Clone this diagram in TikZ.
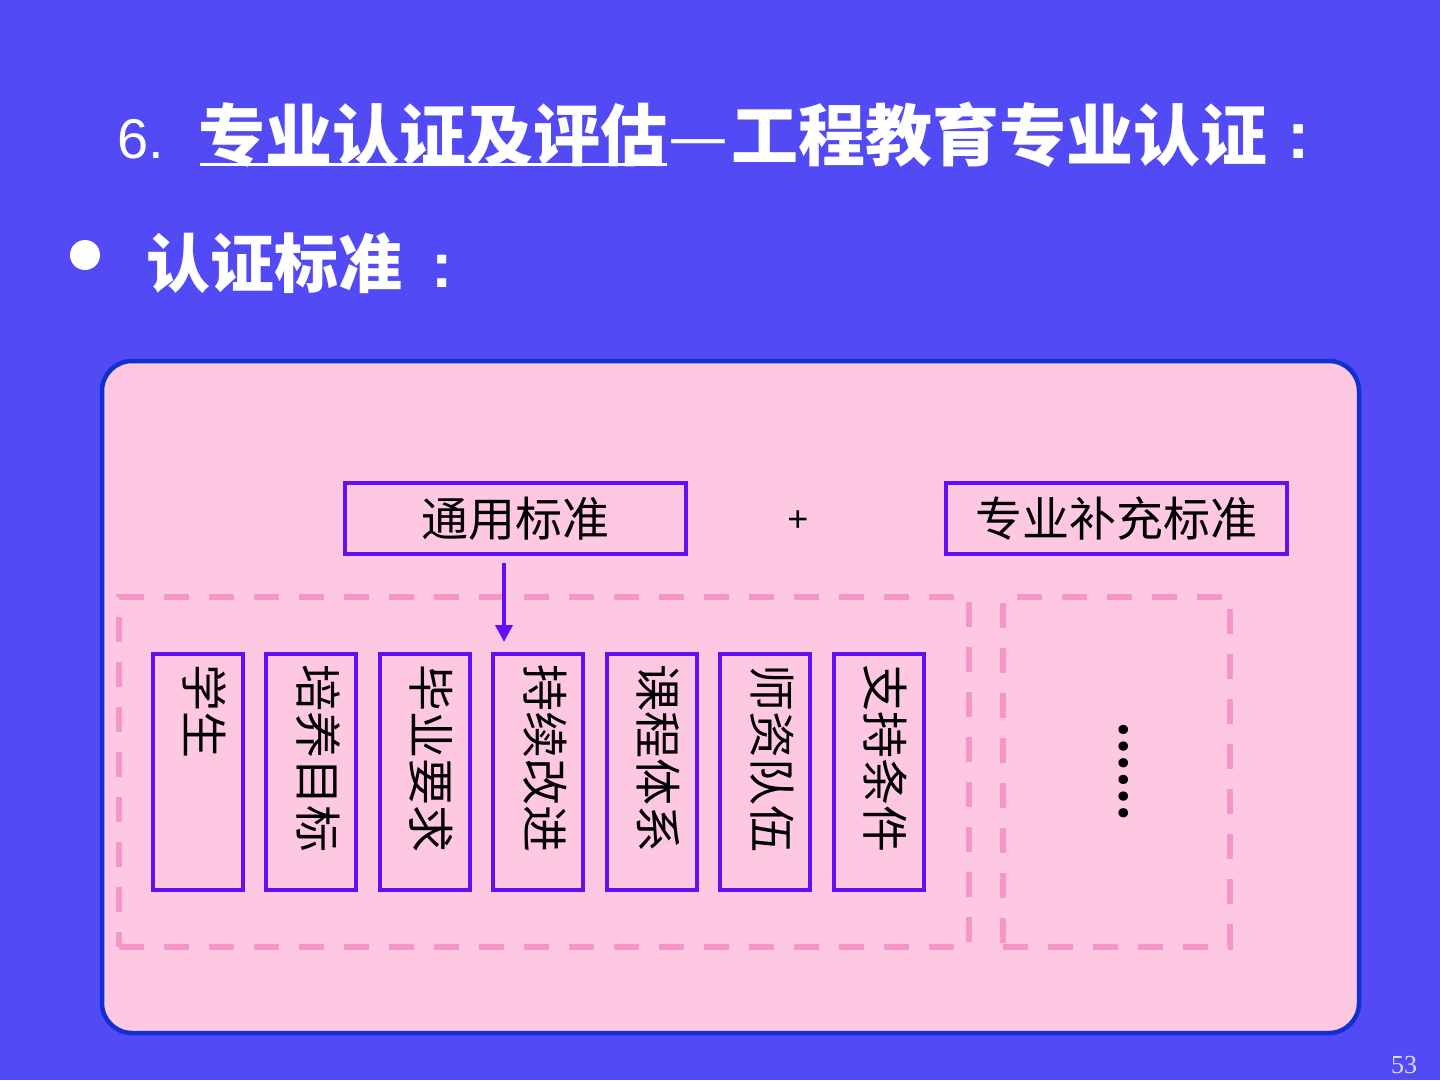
\documentclass[tikz,border=0pt]{standalone}
\usepackage{fontspec}
\usetikzlibrary{arrows.meta,calc}
\newfontfamily\cjk{Noto Sans CJK SC}
\newfontfamily\arialf{Liberation Sans}
\newfontfamily\timesf{Liberation Serif}
\definecolor{bgc}{RGB}{82,74,244}
\definecolor{panelfill}{RGB}{255,200,226}
\definecolor{panelline}{RGB}{16,48,208}
\definecolor{boxline}{RGB}{100,16,245}
\definecolor{dashpink}{RGB}{244,150,200}
\definecolor{pagenum}{RGB}{220,220,250}
\begin{document}
\begin{tikzpicture}[x=1pt,y=-1pt,
  titletext/.style={anchor=base west, inner sep=0pt, text=white, font=\cjk\bfseries\fontsize{67}{70}\selectfont},
  colontext/.style={anchor=base west, inner sep=0pt, text=white, font=\arialf\bfseries\fontsize{67}{70}\selectfont},
  panel/.style={draw=panelline, line width=4.5pt, fill=panelfill, rounded corners=30pt, minimum width=1257pt, minimum height=672pt, inner sep=0pt},
  hbox/.style={draw=boxline, line width=4pt, minimum width=341pt, minimum height=71pt, inner sep=0pt, font=\cjk\fontsize{47}{50}\selectfont, text=black},
  vbox/.style={draw=boxline, line width=4pt, minimum width=90pt, minimum height=236pt, inner sep=0pt},
  vtext/.style={rotate=-90, anchor=west, inner sep=0pt, font=\cjk\fontsize{47}{50}\selectfont, text=black},
  dashbox/.style={draw=dashpink, line width=5.5pt, dash pattern=on 25pt off 20pt, inner sep=0pt},
  conn/.style={draw=boxline, line width=4pt, -{Triangle[width=17pt,length=17pt]}}
]
\fill[bgc] (0,0) rectangle (1440,1080);
\useasboundingbox (0,0) rectangle (1440,1080);

% title
\node[anchor=base west, inner sep=0pt, text=white, font=\arialf\fontsize{56}{60}\selectfont] (num) at (117,158) {6.};
\node[titletext] (t1) at (198,160) {专业认证及评估};
\node[inner sep=0pt, text=white, font=\cjk\fontsize{67}{70}\selectfont] (dash) at (698,150) {—};
\node[titletext] (t3) at (731,160) {工程教育专业认证};
\node[colontext] (tc) at (1287,158) {:};
\draw[white, line width=3pt] ($(t1.base west)+(2,4)$) -- ($(t1.base east)+(0,4)$);

% bullet line
\fill[white] (85,255) circle (15);
\node[titletext, font=\cjk\bfseries\fontsize{64}{68}\selectfont] (sub) at (146,287) {认证标准};
\node[colontext, font=\arialf\bfseries\fontsize{64}{68}\selectfont] (subc) at (431,287) {:};

% panel
\node[panel] (panel) at (730.5,697) {};

% dashed groups
\node[dashbox, minimum width=850pt, minimum height=350pt] (grp1) at (544,772) {};
\node[dashbox, minimum width=227pt, minimum height=350pt] (grp2) at (1116.5,772) {};

% top boxes
\node[hbox] (gen) at (515.5,518.5) {通用标准};
\node[hbox] (spec) at (1116.5,518.5) {专业补充标准};
\node[inner sep=0pt, font=\arialf\fontsize{36}{38}\selectfont, text=black] (plus) at (798,521) {+};

% vertical boxes
\foreach \n/\x/\t in {1/198/学生, 2/311/培养目标, 3/424.5/毕业要求, 4/538/持续改进, 5/651.5/课程体系, 6/765/师资队伍, 7/878.5/支持条件}{
  \node[vbox] (v\n) at (\x,772) {};
  \node[vtext] (vt\n) at ($(v\n.north)+(7,12)$) {\t};
}

% ellipsis
\node[rotate=-90, inner sep=0pt, font=\cjk\bfseries\fontsize{44}{48}\selectfont, text=black] (dots) at (1124,771) {……};

% arrow
\coordinate (a0) at (504,563);
\coordinate (a1) at (504,642);
\draw[conn] (a0) -- (a1);

% page number
\node[anchor=base west, inner sep=0pt, text=pagenum, font=\timesf\fontsize{26}{28}\selectfont] (page) at (1391,1073) {53};
\end{tikzpicture}
\end{document}
